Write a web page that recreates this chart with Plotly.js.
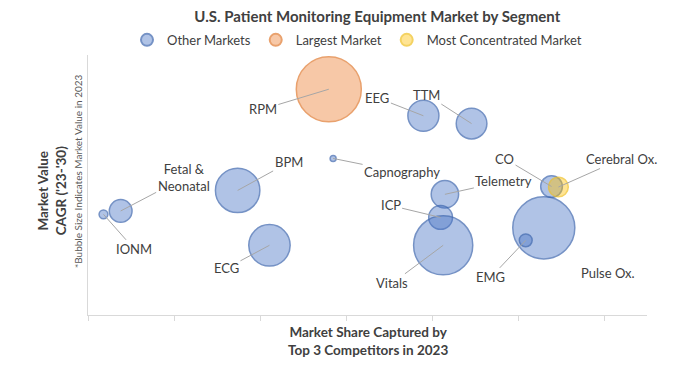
<!DOCTYPE html>
<html>
<head>
<meta charset="utf-8">
<script src="https://cdn.plot.ly/plotly-3.0.1.min.js"></script>
<style>html,body{margin:0;padding:0;background:#fff;}#chart{width:700px;height:366px;}</style>
</head>
<body>
<div id="chart"></div>
<script>
// ---- data ----
const segments = ['RPM','EEG','TTM','Capnography','BPM','Fetal &<br>Neonatal','IONM','ECG','Telemetry','ICP','Vitals','CO','Cerebral Ox.','Pulse Ox.','EMG'];
const marketShareTop3 = [28.0, 39.0, 44.6, 28.5, 17.4, 3.8, 1.8, 21.1, 41.5, 41.0, 41.3, 53.9, 54.7, 53.0, 50.9];
const cagr = [8.68, 7.66, 7.36, 6.02, 4.79, 4.00, 3.87, 2.68, 4.64, 3.75, 2.68, 4.94, 4.92, 3.35, 2.87];
const marketValue2023 = [1800, 410, 400, 15, 840, 220, 33, 730, 320, 240, 1490, 200, 165, 1640, 70];
const segmentGroup = ['Largest Market','Other Markets','Other Markets','Other Markets','Other Markets','Other Markets','Other Markets','Other Markets','Other Markets','Other Markets','Other Markets','Other Markets','Most Concentrated Market','Other Markets','Other Markets'];
const groups = ['Other Markets','Largest Market','Most Concentrated Market'];

// ---- styling / label placement ----
const groupStyle = {
  'Other Markets': {fill:'rgba(68,114,196,0.6)', line:'#3b64ad'},
  'Largest Market': {fill:'rgba(237,125,49,0.6)', line:'#e07a30'},
  'Most Concentrated Market': {fill:'rgba(255,192,0,0.6)', line:'#f0c020'}
};
const labelOffset = [[-66,20],[-46,-18],[-45,-29],[69,14],[51,-28],[63,-33],[31,35],[-43,23],[59,-13],[-50,-12],[-51,38],[-47,-28],[63,-28],[64,45],[-35,37]];
const FONT = 'Lato, "Open Sans", sans-serif';
const SIZEREF = 0.852;

const traces = groups.map(g => {
  const idx = segments.map((s,i)=>i).filter(i => segmentGroup[i] === g);
  return {
    type:'scatter', mode:'markers', name:g,
    x: idx.map(i=>marketShareTop3[i]),
    y: idx.map(i=>cagr[i]),
    text: idx.map(i=>segments[i]),
    hoverinfo:'text',
    marker:{
      size: idx.map(i=>marketValue2023[i]),
      sizemode:'area', sizeref:SIZEREF,
      color: groupStyle[g].fill,
      line:{color: groupStyle[g].line, width:1.5}
    }
  };
});

const annotations = segments.map((s,i)=>({
  x: marketShareTop3[i], y: cagr[i], xref:'x', yref:'y',
  text: s, showarrow:true, arrowhead:0, arrowwidth:1, arrowcolor:'#a6a6a6',
  ax: labelOffset[i][0], ay: labelOffset[i][1], standoff:0,
  font:{family:FONT, size:13, color:'#404040'}
}));
annotations.push({
  xref:'paper', yref:'paper', x:0.501, y:-0.10, xanchor:'center', yanchor:'middle',
  text:'<b>Market Share Captured by<br>Top 3 Competitors in 2023</b>', showarrow:false,
  font:{family:FONT, size:13.5, color:'#404040'}
});
annotations.push({
  xref:'paper', yref:'paper', x:-0.064, y:0.48, xanchor:'center', yanchor:'middle', textangle:-90,
  text:'<b>Market Value<br>CAGR (\'23-\'30)</b>', showarrow:false,
  font:{family:FONT, size:13.5, color:'#404040'}
});
annotations.push({
  xref:'paper', yref:'paper', x:-0.019, y:0.555, xanchor:'center', yanchor:'middle', textangle:-90,
  text:'*Bubble Size Indicates Market Value in 2023', showarrow:false,
  font:{family:FONT, size:10, color:'#595959'}
});

const layout = {
  width:700, height:366,
  margin:{l:88, r:53, t:54, b:51},
  paper_bgcolor:'#fff', plot_bgcolor:'#fff',
  font:{family:FONT, color:'#404040'},
  title:{text:'<b>U.S. Patient Monitoring Equipment Market by Segment</b>', x:0.539, xref:'container', xanchor:'center', y:0.953, yref:'container', yanchor:'middle', font:{family:FONT, size:15, color:'#404040'}},
  showlegend:true,
  legend:{orientation:'h', xref:'container', yref:'container', x:0.51, xanchor:'center', y:0.891, yanchor:'middle', itemsizing:'constant', font:{family:FONT, size:13, color:'#404040'}, traceorder:'normal', itemclick:false},
  xaxis:{range:[0,65], dtick:10, tick0:0, showgrid:false, zeroline:false, showline:true, linecolor:'#d9d9d9', linewidth:1, ticks:'outside', ticklen:5, tickcolor:'#d9d9d9', showticklabels:false, fixedrange:true},
  yaxis:{range:[0,10], showgrid:false, zeroline:false, showline:true, linecolor:'#d9d9d9', linewidth:1, ticks:'', showticklabels:false, fixedrange:true},
  annotations: annotations
};

Plotly.newPlot('chart', traces, layout, {displayModeBar:false, responsive:false});
</script>
</body>
</html>
